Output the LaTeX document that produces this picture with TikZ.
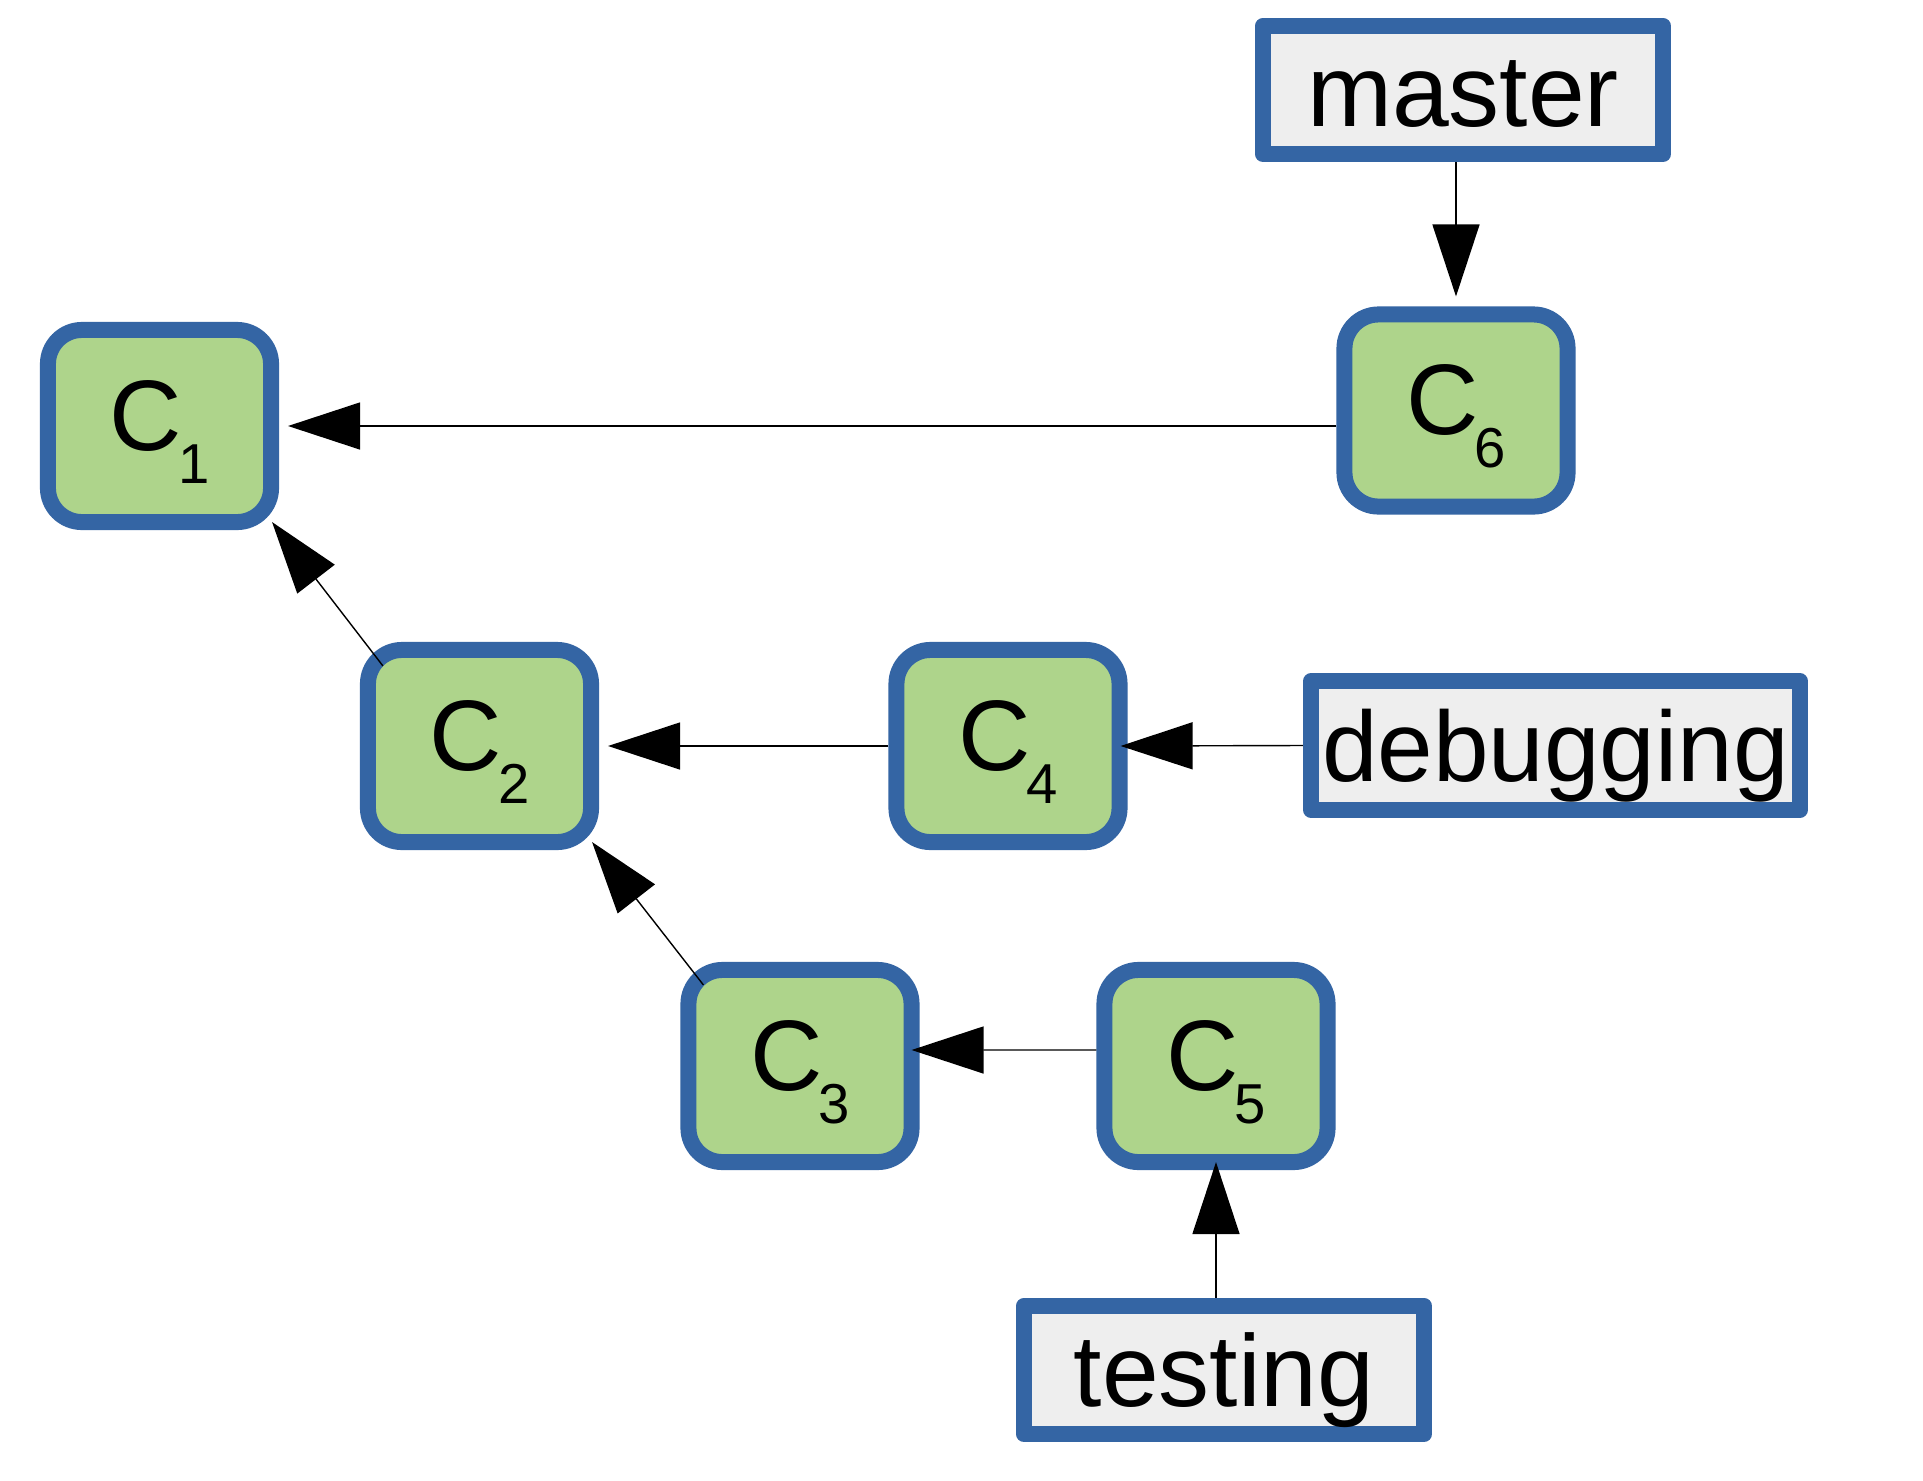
\documentclass[tikz,border=0pt]{standalone}
\usepackage{fontspec}
\setmainfont{Liberation Sans}
\usetikzlibrary{arrows.meta}
\definecolor{bordblue}{HTML}{3465A4}
\definecolor{cfill}{HTML}{AED48B}
\definecolor{lfill}{HTML}{EEEEEE}
\newcommand{\commitlabel}[1]{C\kern-0.04cm\raisebox{-0.33cm}{\fontsize{16pt}{16pt}\selectfont #1}}
\begin{document}
\begin{tikzpicture}[x=0.01cm,y=-0.01cm,
  commit/.style={draw=bordblue, fill=cfill, line width=0.16cm, rounded corners=0.34cm,
    minimum width=2.23cm, minimum height=1.92cm, inner sep=0pt,
    font=\fontsize{28.5pt}{30pt}\selectfont, text height=0.8cm, text depth=0.32cm},
  refbox/.style={draw=bordblue, fill=lfill, line width=0.16cm, line join=round,
    minimum height=1.28cm, inner sep=0pt,
    font=\fontsize{29pt}{31pt}\selectfont, text height=0.92cm, text depth=0.2cm},
  arr/.style={-{Triangle[length=0.72cm,width=0.47cm]}, line width=0.4pt}]
\useasboundingbox[fill=white] (0,0) rectangle (1923,1481);
\node[commit] (C1) at (159.5,426) {\commitlabel{1}};
\node[commit] (C2) at (479.5,746) {\commitlabel{2}};
\node[commit] (C4) at (1008,746) {\commitlabel{4}};
\node[commit] (C3) at (800,1066) {\commitlabel{3}};
\node[commit] (C5) at (1216,1066) {\commitlabel{5}};
\node[commit] (C6) at (1456,410.5) {\commitlabel{6}};
\node[refbox, minimum width=4.00cm] (master) at (1463,90) {master};
\node[refbox, minimum width=4.89cm, font=\fontsize{28.4pt}{30pt}\selectfont] (debugging) at (1555.5,745.5) {debugging};
\node[refbox, minimum width=4.00cm] (testing) at (1224,1370) {testing};
\draw[arr] (C6.west |- C1.east) -- ([xshift=0.09cm]C1.east);
\draw[arr] ([shift={(23,24)}]C2.north west) -- ([shift={(-7,-8)}]C1.south east);
\draw[arr] (C4.west) -- ([xshift=0.09cm]C2.east);
\draw[arr] (debugging.west) -- ([xshift=-0.07cm]C4.east);
\draw[arr] ([shift={(23,23)}]C3.north west) -- ([shift={(-7,-8)}]C2.south east);
\draw[arr] ([yshift=0.16cm]C5.west) -- ([shift={(-8,-16)}]C3.east);
\draw[arr] (master.south -| C6.north) -- ([yshift=0.1cm]C6.north);
\draw[arr] (testing.north -| C5.south) -- ([yshift=0.08cm]C5.south);
\end{tikzpicture}
\end{document}
